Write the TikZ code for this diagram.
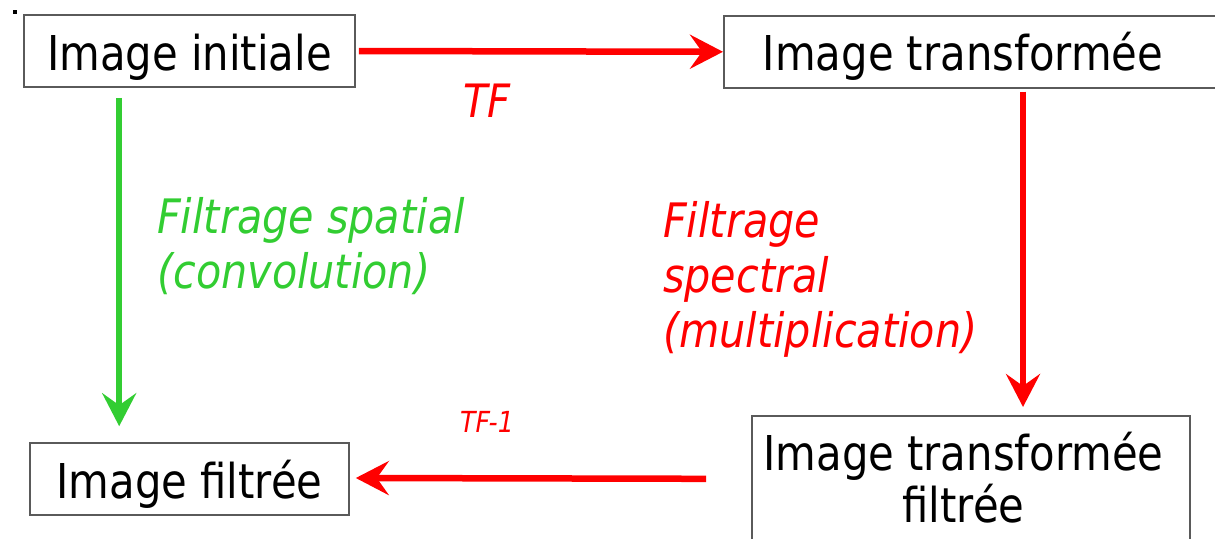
\documentclass[tikz,border=0pt]{standalone}
\usepackage{fontspec}
\setmainfont{DejaVu Sans}[FakeStretch=0.87]
\usetikzlibrary{arrows.meta}
\definecolor{lgreen}{RGB}{50,205,50}
\definecolor{boxgray}{RGB}{90,90,90}
\begin{document}
\begin{tikzpicture}[x=1pt,y=-1pt,
  box/.style={draw=boxgray, line width=1.6pt, inner sep=0pt},
  txt/.style={font=\fontsize{48}{52}\selectfont, inner sep=0pt},
  boxtext/.style={txt, text height=38pt, text depth=0pt},
  flow/.style={line width=6.5pt, -{Stealth[length=33pt,width=34pt,inset=12pt]}},
  lbl/.style={font=\fontsize{47.5}{55}\selectfont\itshape, align=left, anchor=north west, inner sep=0pt}]
\useasboundingbox (0,0) rectangle (1215,538);
\fill (13,10) rectangle (17,14);
% boxes
\node[box, boxtext, minimum width=331pt, minimum height=72pt] (a) at (189.5,51) {Image initiale};
\node[box, minimum width=520pt, minimum height=72pt, anchor=north west] (b) at (723,15) {};
\node[boxtext] (bt) at (963,51) {Image transformée};
\node[box, boxtext, minimum width=319pt, minimum height=72pt] (c) at (189.5,479) {Image filtrée};
\node[box, minimum width=438pt, minimum height=160pt, anchor=north west] (d) at (751,415) {};
\node[txt, align=center, anchor=north] (dt) at (963.5,430) {\rule{0pt}{40pt}Image transformée\\filtrée};
% connectors
\draw[flow, red] ([xshift=3pt]a.east) -- (b.west);
\draw[flow, lgreen] ([shift={(96pt,-10pt)}]a.south west) -- ([shift={(90pt,16pt)}]c.north west);
\draw[flow, red] ([shift={(300pt,-3pt)}]b.south west) -- ([shift={(272pt,8pt)}]d.north west);
\draw[flow, red] ([shift={(-45pt,17pt)}]d.west) -- ([shift={(6pt,1pt)}]c.east);
% labels
\node[font=\fontsize{46}{55}\selectfont\itshape, text=red, anchor=base, inner sep=0pt] (tf) at (487,117) {TF};
\node[font=\fontsize{29}{34}\selectfont\itshape, text=red, anchor=base, inner sep=0pt] (tfi) at (487,432) {TF-1};
\node[lbl, text=lgreen] (spat) at (157,193) {\rule{0pt}{40pt}Filtrage spatial\\(convolution)};
\node[lbl, text=red] (spec) at (663,197) {\rule{0pt}{40pt}Filtrage\\spectral\\(multiplication)};
\end{tikzpicture}
\end{document}
